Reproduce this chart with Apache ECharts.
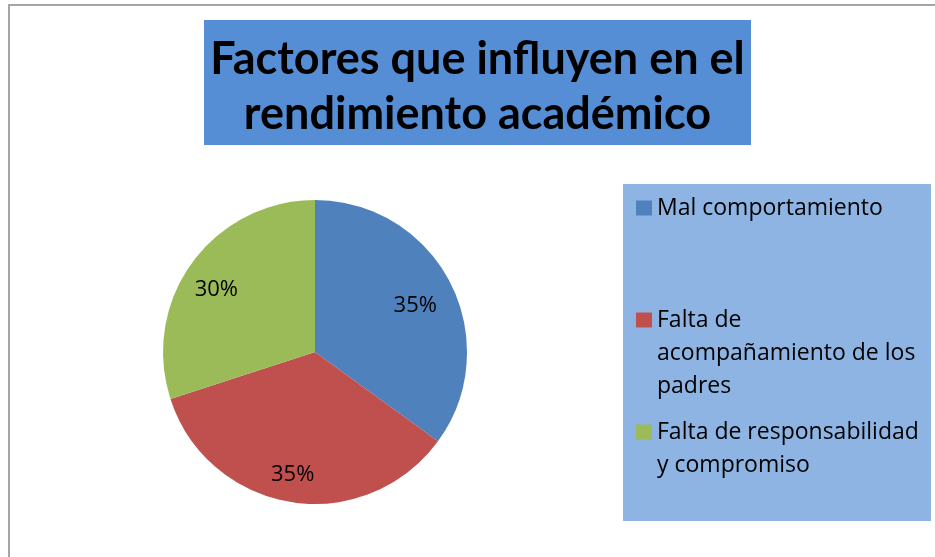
<!DOCTYPE html>
<html>
<head>
<meta charset="utf-8">
<script src="https://cdn.jsdelivr.net/npm/echarts@6/dist/echarts.min.js"></script>
<style>
  body { margin: 0; background: #fff; }
  #chart { width: 935px; height: 557px; }
</style>
</head>
<body>
<div id="chart"></div>
<script>
// datos del grafico
const categorias = ["Mal comportamiento", "Falta de acompañamiento de los padres", "Falta de responsabilidad y compromiso"];
const porcentajes = [35, 35, 30];
const textoLeyenda = ["Mal comportamiento", "Falta de\nacompañamiento de los\npadres", "Falta de responsabilidad\ny compromiso"];
const colores = ["#4f81bd", "#c0504d", "#9bbb59"];

let myChart = echarts.init(document.getElementById("chart"));
let fuente = "'Open Sans', sans-serif";
let fuenteTitulo = "Lato, sans-serif";

// centro del icono de cada entrada de la leyenda
let centrosIcono = [208, 320, 432];
let leyendas = categorias.map(function (nombre, i) {
  let n = textoLeyenda[i].split("\n").length;
  // lineas vacias delante para que el icono quede a la altura de la primera linea
  let texto = "\n".repeat(n - 1) + textoLeyenda[i];
  return {
    data: [nombre],
    orient: "vertical",
    left: 636,
    top: centrosIcono[i] - (2 * n - 1) * 16.5,
    padding: 0,
    itemWidth: 16,
    itemHeight: 15,
    icon: "rect",
    selectedMode: false,
    itemStyle: { borderWidth: 0 },
    formatter: function () {
      return texto;
    },
    textStyle: {
      fontFamily: fuente,
      fontSize: 23,
      lineHeight: 33,
      color: "#000",
    },
  };
});

let datos = categorias.map(function (nombre, i) {
  return { name: nombre, value: porcentajes[i] };
});

let option = {
  backgroundColor: "#fff",
  animation: false,
  color: colores,
  title: {
    text: "Factores que influyen en el\nrendimiento académico",
    left: 477.5,
    top: 20,
    textAlign: "center",
    backgroundColor: "#558ed5",
    padding: [12, 0, 3, 0],
    textStyle: {
      width: 547,
      fontFamily: fuenteTitulo,
      fontWeight: "bold",
      fontSize: 45,
      lineHeight: 55,
      color: "#000",
    },
  },
  graphic: [
    {
      type: "rect",
      z: -10,
      shape: { x: 9, y: 5, width: 960, height: 600 },
      style: { fill: "none", stroke: "#a6a6a6", lineWidth: 2 },
    },
    {
      type: "rect",
      z: -5,
      shape: { x: 623, y: 184, width: 308, height: 337 },
      style: { fill: "#8eb4e3" },
    },
  ],
  legend: leyendas,
  series: [
    {
      type: "pie",
      center: [315, 352],
      radius: [0, 152],
      startAngle: 90,
      clockwise: true,
      silent: true,
      label: { show: false },
      labelLine: { show: false },
      itemStyle: { borderWidth: 0 },
      data: datos,
    },
    {
      // serie transparente solo para colocar las etiquetas
      type: "pie",
      center: [315, 352],
      radius: [76, 152],
      startAngle: 90,
      clockwise: true,
      silent: true,
      itemStyle: { color: "rgba(0,0,0,0)", borderWidth: 0 },
      label: {
        show: true,
        position: "inside",
        formatter: "{c}%",
        fontFamily: fuente,
        fontSize: 22,
        color: "#000",
        offset: [-4, 7],
      },
      labelLine: { show: false },
      data: datos,
    },
  ],
};

option && myChart.setOption(option);
</script>
</body>
</html>
